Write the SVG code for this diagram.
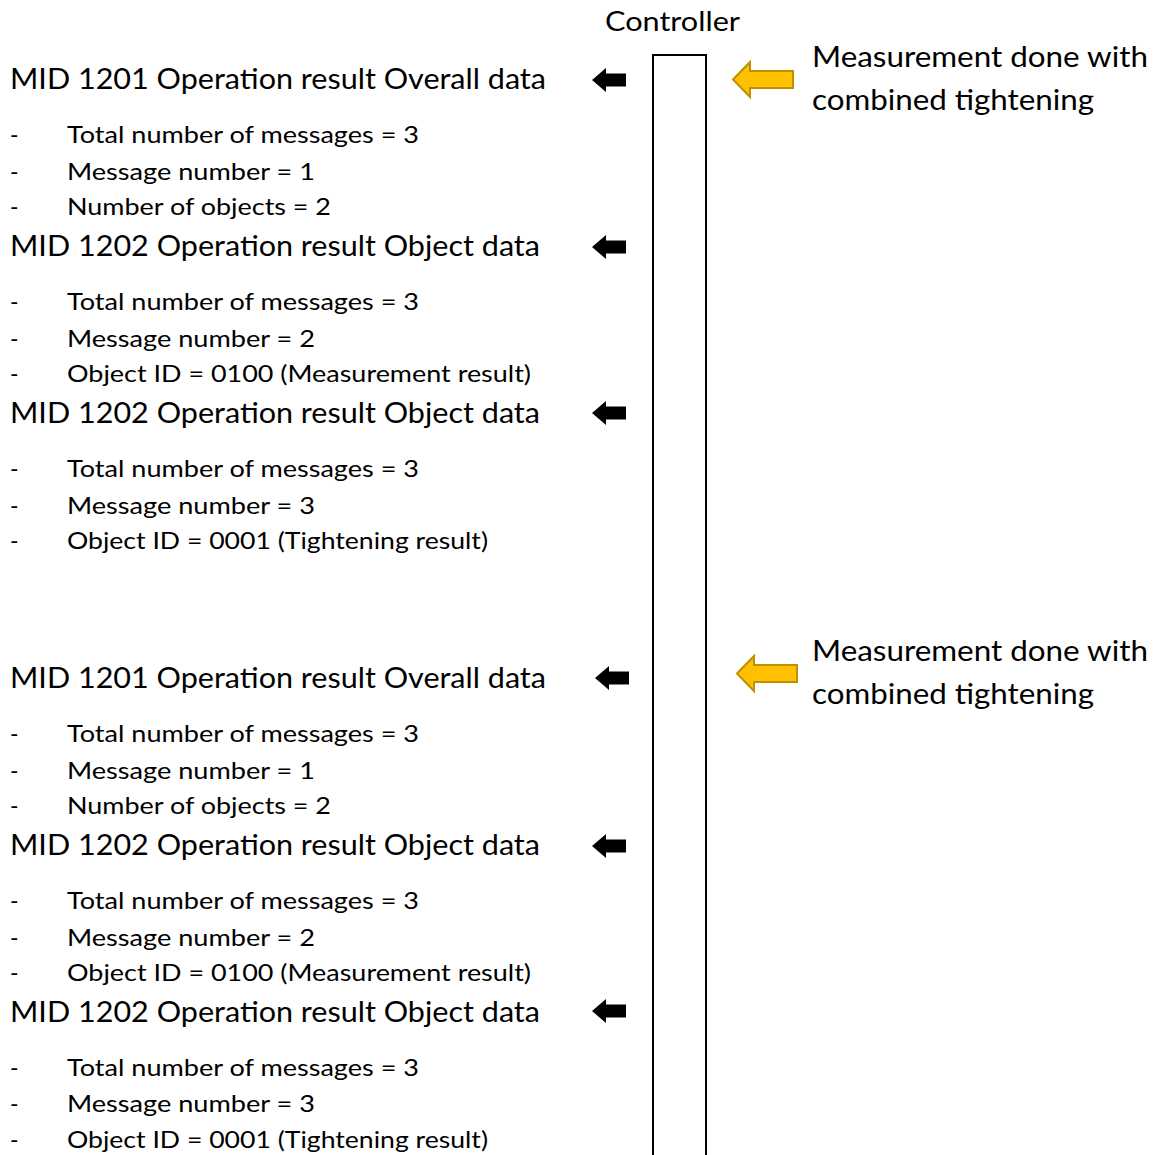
<svg xmlns="http://www.w3.org/2000/svg" width="1155" height="1155" viewBox="0 0 1155 1155">
<style>
text{font-family:Lato,"Open Sans","Liberation Sans",sans-serif;fill:#000}
.h{font-size:29px}
.b{font-size:23px}
.r{font-size:29px}
.c{font-size:26px}
.ba{fill:#000}
.ya{fill:#FFC000;stroke:#BF9000;stroke-width:2;stroke-linejoin:miter}
.ctrl{fill:none;stroke:#000;stroke-width:2}
</style>
<defs>
<path id="blk" d="M0,0 L14,-12 L14,-6.5 L34,-6.5 L34,6.5 L14,6.5 L14,12 Z"/>
<path id="yel" d="M0,0 L17,-17.5 L17,-8.5 L60,-8.5 L60,8.5 L17,8.5 L17,17.5 Z"/>
</defs>
<rect width="1155" height="1155" fill="#fff"/>

<g id="controller">
<path class="ctrl" d="M653,1160 L653,55 L706,55 L706,1160"/>
<text class="c" x="605" y="31" textLength="135" lengthAdjust="spacingAndGlyphs">Controller</text>
</g>

<g id="events">
<g id="event1">
<use href="#yel" class="ya" transform="translate(733,79.5)"/>
<text class="r" x="812" y="67" textLength="336" lengthAdjust="spacingAndGlyphs">Measurement done with</text>
<text class="r" x="812" y="110" textLength="282" lengthAdjust="spacingAndGlyphs">combined tightening</text>
</g>
<g id="event2">
<use href="#yel" class="ya" transform="translate(737,673.5)"/>
<text class="r" x="812" y="661" textLength="336" lengthAdjust="spacingAndGlyphs">Measurement done with</text>
<text class="r" x="812" y="704" textLength="282" lengthAdjust="spacingAndGlyphs">combined tightening</text>
</g>
</g>

<g id="connectors">
<use href="#blk" class="ba" transform="translate(592,80)"/>
<use href="#blk" class="ba" transform="translate(592,247)"/>
<use href="#blk" class="ba" transform="translate(592,413)"/>
<use href="#blk" class="ba" transform="translate(595,678)"/>
<use href="#blk" class="ba" transform="translate(592,846)"/>
<use href="#blk" class="ba" transform="translate(592,1011)"/>
</g>

<g id="msg1">
<text class="h" x="10" y="89" textLength="536" lengthAdjust="spacingAndGlyphs">MID 1201 Operation result Overall data</text>
<text class="b" x="10" y="143">-</text><text class="b" x="67" y="143" textLength="352" lengthAdjust="spacingAndGlyphs">Total number of messages = 3</text>
<text class="b" x="10" y="180">-</text><text class="b" x="67" y="180" textLength="248" lengthAdjust="spacingAndGlyphs">Message number = 1</text>
<text class="b" x="10" y="215">-</text><text class="b" x="67" y="215" textLength="264" lengthAdjust="spacingAndGlyphs">Number of objects = 2</text>
</g>
<g id="msg2">
<text class="h" x="10" y="256" textLength="530" lengthAdjust="spacingAndGlyphs">MID 1202 Operation result Object data</text>
<text class="b" x="10" y="310">-</text><text class="b" x="67" y="310" textLength="352" lengthAdjust="spacingAndGlyphs">Total number of messages = 3</text>
<text class="b" x="10" y="347">-</text><text class="b" x="67" y="347" textLength="248" lengthAdjust="spacingAndGlyphs">Message number = 2</text>
<text class="b" x="10" y="382">-</text><text class="b" x="67" y="382" textLength="464" lengthAdjust="spacingAndGlyphs">Object ID = 0100 (Measurement result)</text>
</g>
<g id="msg3">
<text class="h" x="10" y="423" textLength="530" lengthAdjust="spacingAndGlyphs">MID 1202 Operation result Object data</text>
<text class="b" x="10" y="477">-</text><text class="b" x="67" y="477" textLength="352" lengthAdjust="spacingAndGlyphs">Total number of messages = 3</text>
<text class="b" x="10" y="514">-</text><text class="b" x="67" y="514" textLength="248" lengthAdjust="spacingAndGlyphs">Message number = 3</text>
<text class="b" x="10" y="549">-</text><text class="b" x="67" y="549" textLength="421" lengthAdjust="spacingAndGlyphs">Object ID = 0001 (Tightening result)</text>
</g>
<g id="msg4">
<text class="h" x="10" y="688" textLength="536" lengthAdjust="spacingAndGlyphs">MID 1201 Operation result Overall data</text>
<text class="b" x="10" y="742">-</text><text class="b" x="67" y="742" textLength="352" lengthAdjust="spacingAndGlyphs">Total number of messages = 3</text>
<text class="b" x="10" y="779">-</text><text class="b" x="67" y="779" textLength="248" lengthAdjust="spacingAndGlyphs">Message number = 1</text>
<text class="b" x="10" y="814">-</text><text class="b" x="67" y="814" textLength="264" lengthAdjust="spacingAndGlyphs">Number of objects = 2</text>
</g>
<g id="msg5">
<text class="h" x="10" y="855" textLength="530" lengthAdjust="spacingAndGlyphs">MID 1202 Operation result Object data</text>
<text class="b" x="10" y="909">-</text><text class="b" x="67" y="909" textLength="352" lengthAdjust="spacingAndGlyphs">Total number of messages = 3</text>
<text class="b" x="10" y="946">-</text><text class="b" x="67" y="946" textLength="248" lengthAdjust="spacingAndGlyphs">Message number = 2</text>
<text class="b" x="10" y="981">-</text><text class="b" x="67" y="981" textLength="464" lengthAdjust="spacingAndGlyphs">Object ID = 0100 (Measurement result)</text>
</g>
<g id="msg6">
<text class="h" x="10" y="1022" textLength="530" lengthAdjust="spacingAndGlyphs">MID 1202 Operation result Object data</text>
<text class="b" x="10" y="1076">-</text><text class="b" x="67" y="1076" textLength="352" lengthAdjust="spacingAndGlyphs">Total number of messages = 3</text>
<text class="b" x="10" y="1112">-</text><text class="b" x="67" y="1112" textLength="248" lengthAdjust="spacingAndGlyphs">Message number = 3</text>
<text class="b" x="10" y="1148">-</text><text class="b" x="67" y="1148" textLength="421" lengthAdjust="spacingAndGlyphs">Object ID = 0001 (Tightening result)</text>
</g>
</svg>
